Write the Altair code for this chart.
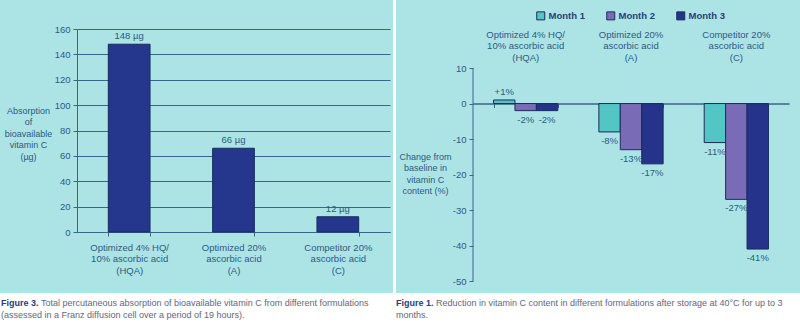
import altair as alt
import pandas as pd

FONT = "Liberation Sans"
BG = "#ace3e4"
NAVY = "#24378c"
OUTLINE = "#1c2b5c"
AXIS = "#3a6590"
LABEL = "#2d5a84"
CAP_BOLD = "#2b3d7c"
CAP_TEXT = "#62687c"
LFS = 9.5   # label font size
TFS = 9     # title font size
CFS = 9     # caption font size

# ---- Figure 3 data ----
abs_categories = ["Optimized 4% HQ/|10% ascorbic acid|(HQA)",
                  "Optimized 20%|ascorbic acid|(A)",
                  "Competitor 20%|ascorbic acid|(C)"]
abs_values = [148, 66, 12]
abs_labels = ["148 µg", "66 µg", "12 µg"]
abs_ticks = [0, 20, 40, 60, 80, 100, 120, 140, 160]

# ---- Figure 1 data ----
chg_categories = ["Optimized 4% HQ/|10% ascorbic acid|(HQA)",
                  "Optimized 20%|ascorbic acid|(A)",
                  "Competitor 20%|ascorbic acid|(C)"]
months = ["Month 1", "Month 2", "Month 3"]
month_colors = ["#52c5c4", "#7a6bb7", "#25338b"]
chg_hqa = [1, -2, -2]
chg_a = [-8, -13, -17]
chg_c = [-11, -27, -41]
chg_hqa_labels = ["+1%", "-2%", "-2%"]
chg_a_labels = ["-8%", "-13%", "-17%"]
chg_c_labels = ["-11%", "-27%", "-41%"]
chg_ticks = [10, 0, -10, -20, -30, -40, -50]

df1 = pd.DataFrame({"cat": abs_categories, "value": abs_values, "label": abs_labels})

rows = []
for cat, vals, labs in zip(chg_categories, [chg_hqa, chg_a, chg_c],
                           [chg_hqa_labels, chg_a_labels, chg_c_labels]):
    for m, v, l in zip(months, vals, labs):
        rows.append({"cat": cat, "month": m, "value": v, "label": l})
df2 = pd.DataFrame(rows)

one = alt.Data(values=[{}])


def box(x0, x1, y0, y1, color="white", opacity=1):
    return alt.Chart(one).mark_rect(color=color, opacity=opacity).encode(
        x=alt.value(x0), x2=alt.value(x1), y=alt.value(y0), y2=alt.value(y1))


def caption(x, y, text, bold=False):
    return alt.Chart(one).mark_text(
        align="left", baseline="middle", font=FONT, fontSize=CFS,
        fontWeight="bold" if bold else "normal",
        color=CAP_BOLD if bold else CAP_TEXT).encode(
        x=alt.value(x), y=alt.value(y), text=alt.value(text))


# ================= Left chart =================
W1, H1 = 313, 203
x1_axis = alt.Axis(title=None, labelExpr="split(datum.label, '|')", labelAngle=0,
                   tickBand="extent", tickSize=4, labelPadding=6, domainColor=AXIS,
                   tickColor=AXIS, labelColor=LABEL, labelFont=FONT, labelFontSize=LFS,
                   labelLineHeight=11.5, labelLimit=0)
y1_axis = alt.Axis(values=abs_ticks, grid=True, gridColor=AXIS, gridWidth=1,
                   tickSize=4, tickColor=AXIS, domainColor=AXIS, labelColor=LABEL,
                   labelFont=FONT, labelFontSize=LFS, labelPadding=3,
                   title=["Absorption", "of", "bioavailable", "vitamin C", "(µg)"],
                   titleAngle=0, titleX=-49, titleY=77, titleAlign="center",
                   titleBaseline="top", titleFont=FONT, titleFontSize=TFS,
                   titleFontWeight="normal", titleColor=LABEL, titleLineHeight=11.5)
x1 = alt.X("cat:N", sort=abs_categories,
           scale=alt.Scale(paddingInner=0.6, paddingOuter=0.3), axis=x1_axis)
y1 = alt.Y("value:Q", scale=alt.Scale(domain=[0, 160]), axis=y1_axis)

bounds1 = box(-77, 316, -29, 264, opacity=0)
gap1 = box(316, 319, -29, 264)
strip1 = box(-77, 319, 264, 297)
bars1 = alt.Chart(df1).mark_bar(color=NAVY, stroke=OUTLINE, strokeWidth=1).encode(x=x1, y=y1)
text1 = alt.Chart(df1).mark_text(baseline="bottom", dy=-3, font=FONT, fontSize=LFS,
                                 color=LABEL).encode(x=x1, y=y1, text="label:N")
cap1a = caption(-76, 274, "Figure 3.", bold=True)
cap1b = caption(-36, 274, "Total percutaneous absorption of bioavailable vitamin C from different formulations")
cap1c = caption(-76, 286, "(assessed in a Franz diffusion cell over a period of 19 hours).")

left = alt.layer(bounds1, gap1, strip1, bars1, text1, cap1a, cap1b, cap1c).properties(
    width=W1, height=H1)

# ================= Right chart =================
W2, H2 = 316, 252
x_scale2 = alt.Scale(paddingInner=0.39, paddingOuter=0.195)
x2_top_axis = alt.Axis(orient="top", offset=-16, title=None,
                       labelExpr="split(datum.label, '|')",
                       labelAngle=0, domain=False, ticks=False, labelPadding=6,
                       labelColor=LABEL, labelFont=FONT, labelFontSize=LFS,
                       labelLineHeight=11.5, labelLimit=0)
x2_zero_axis = alt.Axis(orient="bottom", offset=-177.5, title=None, labels=False,
                        tickBand="extent", tickSize=4, tickColor=AXIS, domainColor=AXIS)
y2_axis = alt.Axis(values=chg_ticks, grid=False, domain=False, tickSize=4, tickColor=AXIS,
                   labelColor=LABEL, labelFont=FONT, labelFontSize=LFS,
                   labelPadding=3, labelExpr="toString(datum.value)",
                   title=["Change from", "baseline in", "vitamin C", "content (%)"],
                   titleAngle=0, titleX=-48, titleY=123, titleAlign="center",
                   titleBaseline="top", titleFont=FONT, titleFontSize=TFS,
                   titleFontWeight="normal", titleColor=LABEL, titleLineHeight=11.5)
y2 = alt.Y("value:Q", scale=alt.Scale(domain=[-50, 21], nice=False, zero=False), axis=y2_axis)
xo = alt.XOffset("month:N", sort=months, scale=alt.Scale(paddingInner=0, paddingOuter=0))
x2_zero = alt.X("cat:N", sort=chg_categories, axis=x2_zero_axis)

bounds2 = box(-77, 327, -29, 264, opacity=0)
strip2 = box(-77, 327, 264, 297)
yline2 = alt.Chart(one).mark_rule(color=AXIS, strokeWidth=1).encode(
    x=alt.value(0), y=alt.datum(chg_ticks[-1]), y2=alt.datum(chg_ticks[0]))
bars2 = alt.Chart(df2).mark_bar(stroke=OUTLINE, strokeWidth=1).encode(
    x=alt.X("cat:N", sort=chg_categories, scale=x_scale2, axis=x2_top_axis),
    xOffset=xo, y=y2,
    color=alt.Color("month:N", sort=months,
                    scale=alt.Scale(domain=months, range=month_colors),
                    legend=alt.Legend(title=None, orient="none", legendX=63, legendY=-18,
                                      direction="horizontal", symbolType="square",
                                      symbolSize=64, symbolStrokeColor=OUTLINE,
                                      symbolStrokeWidth=1, labelFont=FONT,
                                      labelFontSize=9.5, labelFontWeight="bold",
                                      labelColor=CAP_BOLD, labelOffset=3,
                                      columnPadding=19, padding=0)))
pos2 = alt.Chart(df2).transform_filter("datum.value >= 0").mark_text(
    baseline="bottom", dy=-3, font=FONT, fontSize=LFS, color=LABEL).encode(
    x=x2_zero, xOffset=xo, y=y2, text="label:N")
neg2 = alt.Chart(df2).transform_filter("datum.value < 0").mark_text(
    baseline="top", dy=4, font=FONT, fontSize=LFS, color=LABEL).encode(
    x=x2_zero, xOffset=xo, y=y2, text="label:N")
cap2a = caption(-77, 274, "Figure 1.", bold=True)
cap2b = caption(-37, 274, "Reduction in vitamin C content in different formulations after storage at 40°C for up to 3")
cap2c = caption(-77, 286, "months.")

right = alt.layer(bounds2, strip2, yline2, bars2, pos2, neg2, cap2a, cap2b, cap2c).properties(
    width=W2, height=H2)

chart = alt.hconcat(left, right, spacing=0).resolve_scale(color="independent").properties(
    padding=0, background=BG).configure_view(stroke=None)

chart.save("out.html", embed_options={"renderer": "svg", "actions": False})
